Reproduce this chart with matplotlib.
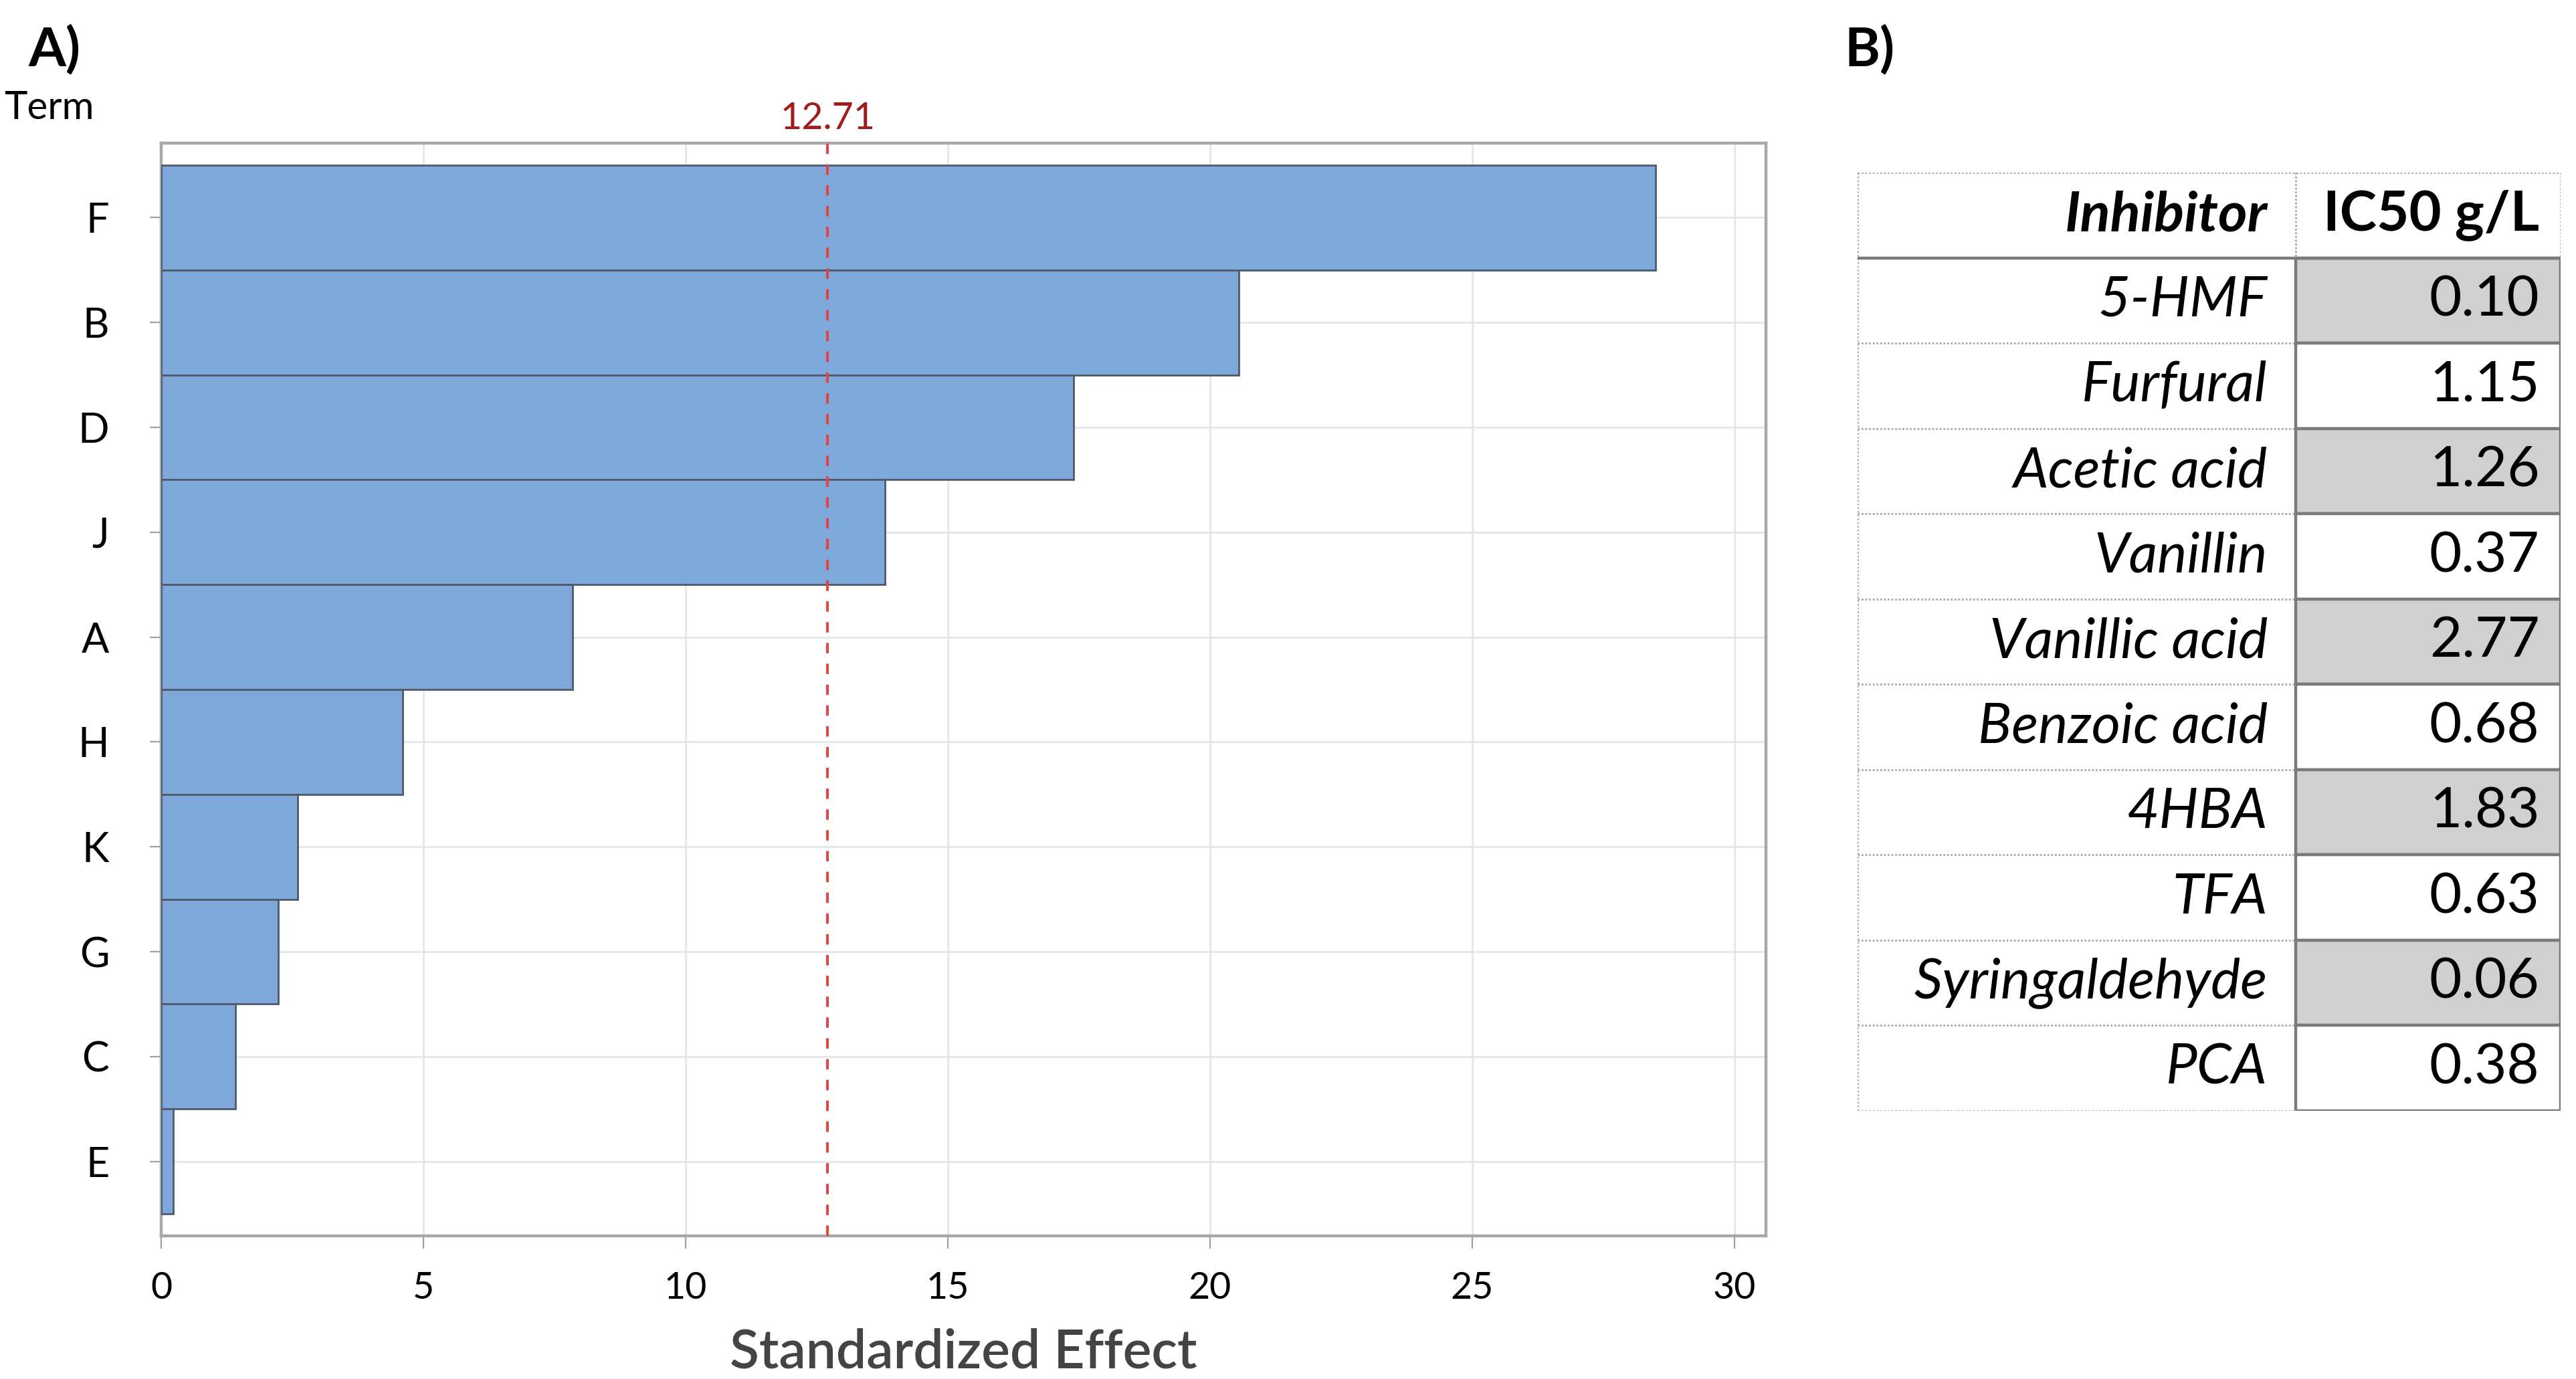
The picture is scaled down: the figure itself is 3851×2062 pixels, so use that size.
import numpy as np
import matplotlib.pyplot as plt
from matplotlib.patches import Rectangle

plt.rcParams['font.family'] = ['Lato', 'DejaVu Sans']

# Pareto chart data (A)
terms = ['F', 'B', 'D', 'J', 'A', 'H', 'K', 'G', 'C', 'E']
effects = [28.5, 20.55, 17.4, 13.8, 7.85, 4.6, 2.6, 2.23, 1.42, 0.23]
crit_value = 12.71

# IC50 table data (B)
inhibitors = ['5-HMF', 'Furfural', 'Acetic acid', 'Vanillin', 'Vanillic acid',
              'Benzoic acid', '4HBA', 'TFA', 'Syringaldehyde', 'PCA']
ic50 = ['0.10', '1.15', '1.26', '0.37', '2.77', '0.68', '1.83', '0.63', '0.06', '0.38']

fig = plt.figure(figsize=(19.255, 10.31), dpi=200)

# --- A) Pareto chart ---
ax = fig.add_axes([0.0626, 0.1038, 0.6229, 0.7924])
y = np.arange(len(terms))
ax.barh(y, effects, height=1.0, color='#7ea8da', edgecolor='#4d5a6b', linewidth=1.0, zorder=3)
ax.axvline(crit_value, color='#e8413c', linestyle=(0, (4, 4)), linewidth=1.4, zorder=4)
ax.text(crit_value, -0.78, f'{crit_value:.2f}', color='#a31b1b', fontsize=20,
        ha='center', va='bottom')
ax.set_xlim(0, 30.6)
ax.set_ylim(9.71, -0.71)
ax.set_yticks(y)
ax.set_yticklabels(terms, fontsize=22)
ax.set_xticks(range(0, 31, 5))
ax.tick_params(axis='x', labelsize=20, length=7, color='#a0a0a0', pad=12)
ax.tick_params(axis='y', length=6, color='#a0a0a0', pad=22)
ax.grid(True, color='#e6e6e6', linewidth=1.0, zorder=0)
for s in ax.spines.values():
    s.set_color('#a8a8a8')
    s.set_linewidth(1.6)
ax.set_xlabel('Standardized Effect', fontsize=29, fontweight='semibold', color='#444444', labelpad=12)
fig.text(0.0015, 0.909, 'Term', fontsize=21, ha='left', va='bottom')
fig.text(0.011, 0.945, 'A)', fontsize=29, fontweight='bold', ha='left', va='bottom')
fig.text(0.716, 0.945, 'B)', fontsize=29, fontweight='bold', ha='left', va='bottom')

# --- B) IC50 table ---
tx = fig.add_axes([0.7212, 0.1945, 0.2728, 0.6803])
nrows = len(inhibitors) + 1
tx.set_xlim(0, 1)
tx.set_ylim(nrows, 0)
tx.axis('off')
split = 0.623
dot = dict(color='#a8a8a8', linewidth=1.0, linestyle=(0, (1, 1)))
solid = dict(color='#7a7a7a', linewidth=1.6)

# header
tx.text(split - 0.04, 0.5, 'Inhibitor', fontsize=30, fontweight='bold', style='italic',
        ha='right', va='center')
tx.text(0.97, 0.5, 'IC50 g/L', fontsize=30, fontweight='bold', ha='right', va='center')
tx.plot([0, 1], [0, 0], **dot)
tx.plot([0, 0], [0, nrows], **dot)
tx.plot([split, split], [0, 1], **dot)
tx.plot([1, 1], [0, 1], **dot)

for i, (name, val) in enumerate(zip(inhibitors, ic50)):
    r = i + 1
    fc = '#d0d0d0' if i % 2 == 0 else 'white'
    tx.add_patch(Rectangle((split, r), 1 - split, 1, facecolor=fc,
                           edgecolor='#7a7a7a', linewidth=1.6))
    tx.text(split - 0.04, r + 0.5, name, fontsize=30, style='italic', ha='right', va='center')
    tx.text(0.97, r + 0.5, val, fontsize=30, ha='right', va='center')
    tx.plot([0, split], [r + 1, r + 1], **dot)

tx.plot([0, 1], [1, 1], **solid)

fig.savefig('out.png', dpi=200, facecolor='white')
